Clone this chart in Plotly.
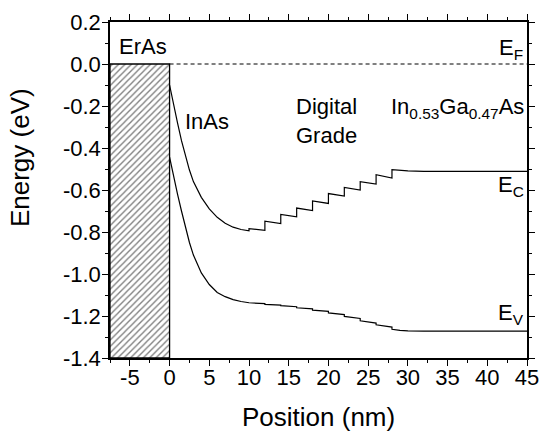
import plotly.graph_objects as go

# ---- data ----
curve_x = [0, 0.5, 1, 1.5, 2, 2.5, 3, 3.5, 4, 5, 6, 7, 8, 9, 10]
ec_curve = [-0.10, -0.195, -0.28, -0.365, -0.44, -0.505, -0.56, -0.60, -0.635,
            -0.69, -0.73, -0.758, -0.777, -0.788, -0.794]
ev_curve = [-0.443, -0.535, -0.62, -0.70, -0.775, -0.85, -0.91, -0.955, -0.995,
            -1.05, -1.088, -1.108, -1.122, -1.131, -1.137]

grade_start_x = [10, 12, 14, 16, 18, 20, 22, 24, 26]
grade_end_x = [12, 14, 16, 18, 20, 22, 24, 26, 28]
ec_step_start = [-0.784, -0.748, -0.716, -0.686, -0.652, -0.617, -0.588, -0.560, -0.527]
ec_step_end = [-0.792, -0.760, -0.728, -0.698, -0.664, -0.629, -0.600, -0.572, -0.543]
ev_step_start = [-1.137, -1.145, -1.151, -1.161, -1.172, -1.185, -1.202, -1.223, -1.242]
ev_step_end = [-1.141, -1.148, -1.156, -1.166, -1.178, -1.193, -1.212, -1.234, -1.253]

tail_x = [28, 29, 30, 32, 45]
ec_tail = [-0.503, -0.507, -0.509, -0.511, -0.511]
ev_tail = [-1.263, -1.268, -1.271, -1.272, -1.272]

eras_x = [-7.5, 0]
eras_y = [-1.4, 0]
fermi_x = [0, 45]
fermi_e = [0, 0]

x_ticks = [-5, 0, 5, 10, 15, 20, 25, 30, 35, 40, 45]
x_ticktext = ["-5", "0", "5", "10", "15", "20", "25", "30", "35", "40", "45"]
y_ticks = [0.2, 0.0, -0.2, -0.4, -0.6, -0.8, -1.0, -1.2, -1.4]
y_ticktext = ["0.2", "0.0", "-0.2", "-0.4", "-0.6", "-0.8", "-1.0", "-1.2", "-1.4"]


def band(cx, ce, sx0, sx1, s0, s1, tx, te):
    xs = list(cx)
    es = list(ce)
    for a, b, p, q in zip(sx0, sx1, s0, s1):
        xs += [a, b]
        es += [p, q]
    xs += list(tx)
    es += list(te)
    return xs, es


ecx, ece = band(curve_x, ec_curve, grade_start_x, grade_end_x, ec_step_start, ec_step_end, tail_x, ec_tail)
evx, eve = band(curve_x, ev_curve, grade_start_x, grade_end_x, ev_step_start, ev_step_end, tail_x, ev_tail)

FONT = "Liberation Sans, Arial, sans-serif"

fig = go.Figure()
fig.add_trace(go.Scatter(
    x=[eras_x[0], eras_x[1], eras_x[1], eras_x[0], eras_x[0]],
    y=[eras_y[0], eras_y[0], eras_y[1], eras_y[1], eras_y[0]],
    mode="lines", fill="toself", fillcolor="white",
    fillpattern=dict(shape="/", fgcolor="black", bgcolor="white", size=4.5, solidity=0.3),
    line=dict(color="black", width=1.3), hoverinfo="skip"))
fig.add_trace(go.Scatter(x=fermi_x, y=fermi_e, mode="lines",
                         line=dict(color="black", width=1, dash="4px,3px")))
fig.add_trace(go.Scatter(x=ecx, y=ece, mode="lines", line=dict(color="black", width=1.2)))
fig.add_trace(go.Scatter(x=evx, y=eve, mode="lines", line=dict(color="black", width=1.2)))

ann_font = dict(family=FONT, size=22, color="black")
annotations = [
    dict(x=-7.5, y=0.085, text="ErAs", xanchor="left", yanchor="middle", xshift=7),
    dict(x=1.9, y=-0.275, text="InAs", xanchor="left", yanchor="middle", xshift=-2),
    dict(x=19.7, y=-0.27, text="Digital<br>Grade", xanchor="center", yanchor="middle"),
    dict(x=45, y=-0.21, text="In<sub>0.53</sub>Ga<sub>0.47</sub>As", xanchor="right",
         yanchor="middle", xshift=-1),
    dict(x=45, y=0.07, text="E<sub>F</sub>", xanchor="right", yanchor="middle", xshift=-2),
    dict(x=45, y=-0.58, text="E<sub>C</sub>", xanchor="right", yanchor="middle", xshift=-1),
    dict(x=45, y=-1.19, text="E<sub>V</sub>", xanchor="right", yanchor="middle", xshift=-1),
]
for a in annotations:
    a.update(showarrow=False, font=ann_font, xref="x", yref="y")

annotations.append(dict(text="Position (nm)", xref="paper", yref="paper", x=0.5, y=0,
                        yshift=-59, xanchor="center", yanchor="middle", showarrow=False,
                        font=dict(family=FONT, size=26, color="black")))
annotations.append(dict(text="Energy (eV)", xref="paper", yref="paper", x=0, y=0.595,
                        xshift=-90, xanchor="center", yanchor="middle", textangle=-90,
                        showarrow=False, font=dict(family=FONT, size=26, color="black")))

axis_common = dict(showline=True, linecolor="black", linewidth=1.5, mirror="allticks",
                   ticks="outside", ticklen=6, tickwidth=1.2, tickcolor="black",
                   showgrid=False, zeroline=False, automargin=False,
                   tickfont=dict(family=FONT, size=22, color="black"))

fig.update_layout(
    width=540, height=432, autosize=False,
    margin=dict(l=110, r=13, t=22, b=74),
    paper_bgcolor="white", plot_bgcolor="white",
    showlegend=False,
    annotations=annotations,
    xaxis=dict(range=[-7.5, 45], tickmode="array", tickvals=x_ticks, ticktext=x_ticktext,
               ticklabelstandoff=-7,
               minor=dict(tickmode="linear", tick0=0, dtick=2.5, ticklen=3.5, ticks="outside",
                          tickcolor="black", tickwidth=1.2),
               **axis_common),
    yaxis=dict(range=[-1.4, 0.2], tickmode="array", tickvals=y_ticks, ticktext=y_ticktext,
               ticklabelstandoff=-3,
               minor=dict(tickmode="linear", tick0=0, dtick=0.1, ticklen=3.5, ticks="outside",
                          tickcolor="black", tickwidth=1.2),
               **axis_common),
)

fig.write_html("out.html", config={"displayModeBar": False},
               post_script="document.body.style.margin='0px';")
